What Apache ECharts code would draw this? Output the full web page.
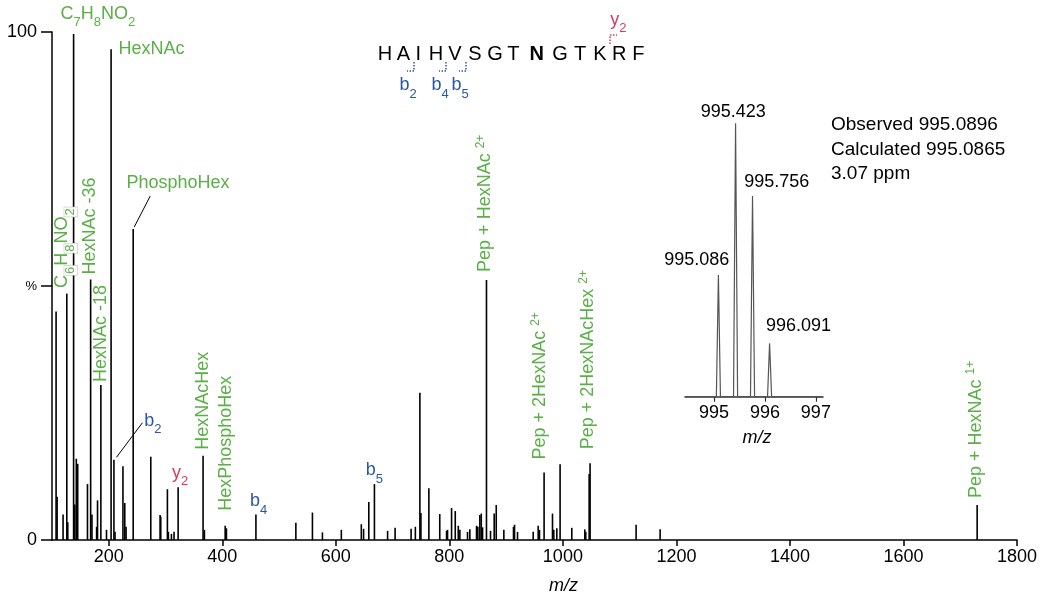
<!DOCTYPE html>
<html>
<head>
<meta charset="utf-8">
<script src="https://cdn.jsdelivr.net/npm/echarts@6/dist/echarts.min.js"></script>
<style>
html, body { margin: 0; padding: 0; background: #fff; }
#chart { width: 1046px; height: 606px; }
</style>
</head>
<body>
<div id="chart"></div>
<script>
// ---- MS/MS centroid peaks: m/z and relative intensity (%) ----
const peakMz = [
  107.2, 109.0, 119.5, 126.06, 127.8, 138.05, 140.2, 142.8, 145.3, 162.5,
  168.07, 170.4, 178.6, 180.2, 186.08, 196.0, 204.09, 209.1, 211.0, 225.0,
  228.2, 230.5, 243.03, 274.0, 290.4, 291.6, 303.3, 305.0, 310.4, 315.0,
  322.2, 366.14, 368.5, 405.08, 407.3, 459.24, 529.6, 558.8, 576.4, 609.7,
  644.9, 648.9, 658.1, 668.0, 691.2, 704.4, 732.6, 740.1, 748.1, 749.9,
  763.9, 783.1, 795.1, 796.8, 803.9, 810.4, 815.7, 818.5, 832.0, 836.1,
  847.9, 850.2, 853.7, 856.2, 858.5, 865.4, 872.5, 879.0, 882.6, 896.0,
  913.0, 914.8, 920.1, 947.7, 956.5, 958.8, 966.9, 981.7, 984.0, 989.3,
  995.09, 1015.7, 1038.6, 1040.3, 1046.3, 1047.9, 1129.0, 1171.3, 1729.8
];
const peakIntensity = [
  45.0, 8.5, 5.0, 48.5, 3.5, 99.6, 7.0, 16.0, 15.0, 11.0,
  51.3, 5.0, 2.6, 7.8, 30.5, 2.0, 96.6, 15.8, 1.6, 14.5,
  7.3, 2.6, 61.2, 16.4, 4.9, 4.6, 10.0, 1.6, 1.2, 1.6,
  10.4, 16.6, 2.0, 2.8, 2.3, 5.0, 3.4, 5.4, 1.5, 2.0,
  3.1, 2.2, 7.5, 11.0, 1.8, 2.4, 2.2, 2.6, 29.0, 5.3,
  10.2, 5.1, 1.8, 2.0, 6.3, 5.7, 2.8, 2.0, 1.6, 2.1,
  2.8, 2.6, 4.9, 5.2, 2.5, 51.2, 1.8, 5.2, 6.9, 2.0,
  2.6, 3.0, 1.6, 1.6, 2.8, 2.0, 13.3, 5.2, 2.0, 2.3,
  14.9, 2.4, 2.1, 1.6, 13.0, 15.1, 3.0, 2.1, 6.9
];

// ---- assigned ions (rich-text markup: subscripts / charge superscripts) ----
const annotMz = [
  138.05, 204.09, 243.03, 126.06, 168.07, 186.08, 366.14, 405.08,
  209.1, 322.2, 459.24, 668.0, 865.4, 966.9, 1047.9, 1729.8
];
const annotText = [
  '{g|C}{gs|7}{g|H}{gs|8}{g|NO}{gs|2}',
  '{g|HexNAc}',
  '{g|PhosphoHex}',
  '{g|C}{gw|6}{g|H}{gw|8}{g|NO}{gw|2}',
  '{g|HexNAc -36}',
  '{g|HexNAc -18}',
  '{g|HexNAcHex}',
  '{g|HexPhosphoHex}',
  '{b|b}{bs|2}',
  '{r|y}{rs|2}',
  '{b|b}{bs|4}',
  '{b|b}{bs|5}',
  '{gm|Pep + HexNAc }{gp|2+}',
  '{gm|Pep + 2HexNAc }{gp|2+}',
  '{gm|Pep + 2HexNAcHex }{gp|2+}',
  '{gm|Pep + HexNAc }{gp|1+}'
];

// ---- precursor isotope envelope (inset) ----
const isoMz = [995.086, 995.423, 995.756, 996.091];
const isoRel = [44.5, 100, 73.4, 19.5];
const isoProfileMz  = [994.43, 995.046, 995.086, 995.126, 995.383, 995.423, 995.463,
                       995.716, 995.756, 995.796, 996.051, 996.091, 996.131, 997.14];
const isoProfileRel = [0, 0, 44.5, 0, 0, 100, 0, 0, 73.4, 0, 0, 19.5, 0, 0];

// ---- peptide and fragment coverage ----
const sequence = ['H', 'A', 'I', 'H', 'V', 'S', 'G', 'T', 'N', 'G', 'T', 'K', 'R', 'F'];
const glycoSite = 8;               // N (bold)
const bIons = ['2', '4', '5'];
const yIons = ['2'];
const infoLines = ['Observed 995.0896', 'Calculated 995.0865', '3.07 ppm'];

// ---- tick labels ----
const xTicks = [200, 400, 600, 800, 1000, 1200, 1400, 1600, 1800];
const yTicks = [0, 50, 100];
const isoTicks = [995, 996, 997];

// ---------------------------------------------------------------
const GREEN = '#5aaf47', BLUE = '#2b56a5', RED = '#dc3a5a';
const FONT = '"Liberation Sans", Arial, Helvetica, sans-serif';

// label placement relative to each peak apex (px)
const annotLayout = [
  { dx: -13, dy: -20.3 },
  { dx: 7.3, dy: 0 },
  { dx: -6.8, dy: -46.3, leader: [17, -33, 1, -2] },
  { dx: -4.5, dy: -5.6, rot: true },
  { dx: -0.4, dy: -5, rot: true },
  { dx: 0.4, dy: -3, rot: true },
  { dx: 0, dy: -6, rot: true },
  { dx: 1.2, dy: -15, rot: true },
  { dx: 30.3, dy: -39.2, leader: [28.5, -37, 2.5, -2.4] },
  { dx: -6.2, dy: -14.2 },
  { dx: -6, dy: -13.1 },
  { dx: -8.6, dy: -13.6 },
  { dx: -1, dy: -8, rot: true },
  { dx: -3.9, dy: -13, rot: true },
  { dx: -1.6, dy: -14, rot: true },
  { dx: -1.2, dy: -7, rot: true }
];
const isoLayout = [[-21.7, -15], [-2.3, -10.8], [24.3, -13.5], [29, -17.6]];

// letter centres of the sequence line and cleavage positions
const letterX = [385, 403.3, 418.3, 436, 455, 475, 495, 513.3, 536.7, 560, 580, 600, 619.3, 638.3];
const seqY = 54;
const bCutX = [414, 446, 466];
const yCutX = [610];

const RICH = {
  g:  { fontSize: 18, fontFamily: FONT, fill: GREEN, lineHeight: 30 },
  gs: { fontSize: 13, fontFamily: FONT, fill: GREEN, lineHeight: 13, verticalAlign: 'bottom' },
  gw: { fontSize: 13, fontFamily: FONT, fill: GREEN, lineHeight: 13, verticalAlign: 'bottom',
        backgroundColor: '#fff', borderColor: '#c4c4c4', borderWidth: 0.6, padding: [0, 1] },
  gm: { fontSize: 18, fontFamily: FONT, fill: GREEN, lineHeight: 22 },
  gp: { fontSize: 12, fontFamily: FONT, fill: GREEN, lineHeight: 14, verticalAlign: 'top' },
  b:  { fontSize: 18, fontFamily: FONT, fill: BLUE, lineHeight: 30 },
  bs: { fontSize: 13, fontFamily: FONT, fill: BLUE, lineHeight: 13, verticalAlign: 'bottom' },
  r:  { fontSize: 18, fontFamily: FONT, fill: RED, lineHeight: 30 },
  rs: { fontSize: 13, fontFamily: FONT, fill: RED, lineHeight: 13, verticalAlign: 'bottom' }
};

function apexOf(mz) {
  let best = 0;
  for (let i = 1; i < peakMz.length; i++) {
    if (Math.abs(peakMz[i] - mz) < Math.abs(peakMz[best] - mz)) best = i;
  }
  return peakIntensity[best];
}

// ---- static decorations: sequence, cleavage brackets, mass info ----
const graphics = [];
sequence.forEach((aa, i) => {
  graphics.push({
    type: 'text', x: letterX[i], y: seqY, silent: true,
    style: { text: aa, fontSize: 20, fontFamily: FONT, fontWeight: i === glycoSite ? 'bold' : 'normal',
             fill: '#000', align: 'center', verticalAlign: 'middle' }
  });
});
bIons.forEach((n, i) => {
  const cx = bCutX[i];
  graphics.push({
    type: 'polyline', silent: true,
    shape: { points: [[cx, 62], [cx, 71], [cx - 7, 71]] },
    style: { stroke: BLUE, lineWidth: 1.5, lineDash: [1.5, 1.5], fill: null }
  });
  graphics.push({
    type: 'text', x: cx - 14.5, y: 85.5, silent: true,
    style: { text: '{b|b}{bs|' + n + '}', rich: RICH, align: 'left', verticalAlign: 'middle' }
  });
});
yIons.forEach((n, i) => {
  const cx = yCutX[i];
  graphics.push({
    type: 'polyline', silent: true,
    shape: { points: [[cx, 44], [cx, 35], [cx + 7, 35]] },
    style: { stroke: RED, lineWidth: 1.5, lineDash: [1.5, 1.5], fill: null }
  });
  graphics.push({
    type: 'text', x: cx + 0.3, y: 20, silent: true,
    style: { text: '{r|y}{rs|' + n + '}', rich: RICH, align: 'left', verticalAlign: 'middle' }
  });
});
infoLines.forEach((t, i) => {
  graphics.push({
    type: 'text', x: 831, y: 125 + i * 24.5, silent: true,
    style: { text: t, fontSize: 19, fontFamily: FONT, fill: '#000', align: 'left', verticalAlign: 'middle' }
  });
});

const axisText = { color: '#000', fontSize: 18, fontFamily: FONT };

const option = {
  animation: false,
  backgroundColor: '#fff',
  grid: [
    { left: 52, right: 29, top: 32, bottom: 66 },
    { left: 685, right: 223, top: 123.3, bottom: 209.3 }
  ],
  xAxis: [
    {
      type: 'value', gridIndex: 0, min: 100, max: 1800,
      name: 'm/z', nameLocation: 'middle', nameGap: 37,
      nameTextStyle: { fontStyle: 'italic', fontSize: 18, fontFamily: FONT, color: '#000', padding: [0, 0, 0, 58] },
      axisLine: { show: true, lineStyle: { color: '#000', width: 1.5 } },
      axisTick: { show: true, length: 6, customValues: xTicks, lineStyle: { color: '#000', width: 1.5 } },
      axisLabel: Object.assign({ margin: 8, customValues: xTicks, formatter: v => String(v) }, axisText),
      splitLine: { show: false }
    },
    {
      type: 'value', gridIndex: 1, min: 994.43, max: 997.14,
      name: 'm/z', nameLocation: 'middle', nameGap: 32,
      nameTextStyle: { fontStyle: 'italic', fontSize: 18, fontFamily: FONT, color: '#000', padding: [0, 0, 0, 6] },
      axisLine: { show: true, lineStyle: { color: '#333', width: 1.5 } },
      axisTick: { show: true, length: 5, customValues: isoTicks, lineStyle: { color: '#333', width: 1.2 } },
      axisLabel: Object.assign({ margin: 7, customValues: isoTicks, formatter: v => String(v) }, axisText),
      splitLine: { show: false }
    }
  ],
  yAxis: [
    {
      type: 'value', gridIndex: 0, min: 0, max: 100, interval: 50,
      axisLine: { show: true, lineStyle: { color: '#000', width: 1.5 } },
      axisTick: { show: true, length: 11, lineStyle: { color: '#000', width: 1.5 } },
      axisLabel: Object.assign({
        margin: 15,
        formatter: v => (v === 50 ? '{p|%}' : String(v)),
        rich: { p: { fontSize: 13, fontFamily: FONT, color: '#000' } }
      }, axisText),
      splitLine: { show: false }
    },
    { type: 'value', gridIndex: 1, min: 0, max: 100, show: false }
  ],
  graphic: graphics,
  series: [
    {
      // stick spectrum
      type: 'custom', xAxisIndex: 0, yAxisIndex: 0, silent: true, clip: false, z: 2,
      data: peakMz.map((m, i) => [m, peakIntensity[i]]),
      encode: { x: 0, y: 1 },
      renderItem: (params, api) => {
        const top = api.coord([api.value(0), api.value(1)]);
        const base = api.coord([api.value(0), 0]);
        return {
          type: 'line',
          shape: { x1: top[0], y1: top[1], x2: base[0], y2: base[1] },
          style: { stroke: '#000', lineWidth: 1.6 }
        };
      }
    },
    {
      // ion assignments
      type: 'custom', xAxisIndex: 0, yAxisIndex: 0, silent: true, clip: false, z: 5,
      data: annotMz.map((m, i) => [m, apexOf(m), i]),
      encode: { x: 0, y: 1 },
      renderItem: (params, api) => {
        const i = api.value(2);
        const p = api.coord([api.value(0), api.value(1)]);
        const L = annotLayout[i];
        const children = [{
          type: 'text', x: p[0] + L.dx, y: p[1] + L.dy, rotation: L.rot ? Math.PI / 2 : 0,
          style: { text: annotText[i], rich: RICH, fontSize: 18, fontFamily: FONT,
                   align: 'left', verticalAlign: 'middle' }
        }];
        if (L.leader) {
          children.push({
            type: 'line',
            shape: { x1: p[0] + L.leader[0], y1: p[1] + L.leader[1],
                     x2: p[0] + L.leader[2], y2: p[1] + L.leader[3] },
            style: { stroke: '#000', lineWidth: 1 }
          });
        }
        return { type: 'group', children };
      }
    },
    {
      // isotope profile
      type: 'line', xAxisIndex: 1, yAxisIndex: 1, silent: true, symbol: 'none',
      data: isoProfileMz.map((m, i) => [m, isoProfileRel[i]]),
      lineStyle: { color: '#555', width: 1.2 }, z: 3
    },
    {
      // isotope m/z labels
      type: 'custom', xAxisIndex: 1, yAxisIndex: 1, silent: true, clip: false, z: 5,
      data: isoMz.map((m, i) => [m, isoRel[i], i]),
      encode: { x: 0, y: 1 },
      renderItem: (params, api) => {
        const i = api.value(2);
        const p = api.coord([api.value(0), api.value(1)]);
        return {
          type: 'text', x: p[0] + isoLayout[i][0], y: p[1] + isoLayout[i][1],
          style: { text: isoMz[i].toFixed(3), fontSize: 18, fontFamily: FONT, fill: '#000',
                   align: 'center', verticalAlign: 'middle' }
        };
      }
    }
  ]
};

const chart = echarts.init(document.getElementById('chart'), null, { renderer: 'canvas' });
chart.setOption(option);
</script>
</body>
</html>
